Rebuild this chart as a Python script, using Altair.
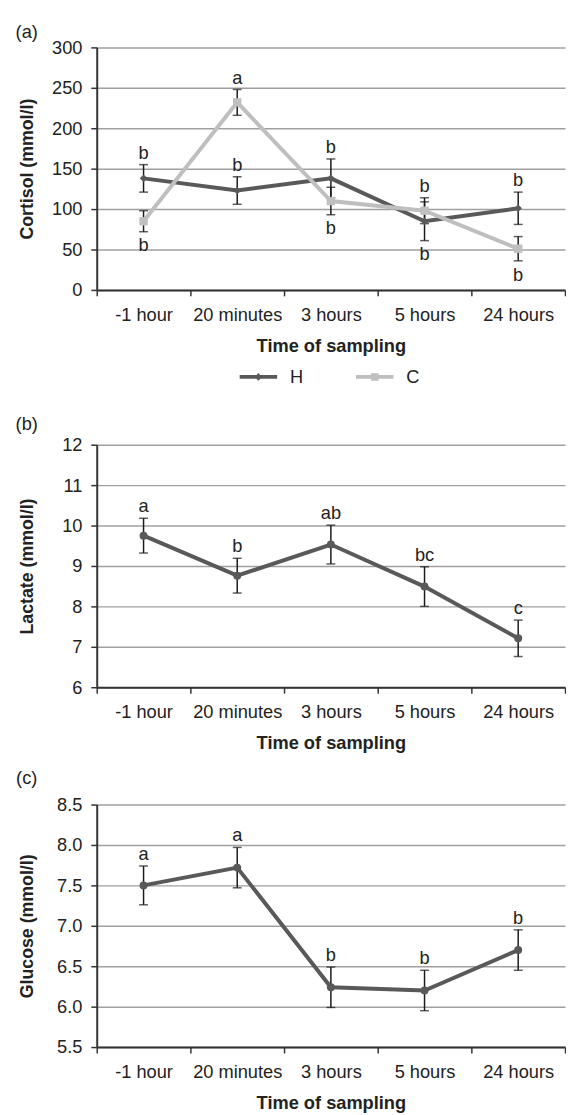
import altair as alt
import pandas as pd

# ---------------- data ----------------
times = ["-1 hour", "20 minutes", "3 hours", "5 hours", "24 hours"]
series = ["H", "C"]

cortisol_H = [138, 123, 138, 85, 101]
cortisol_H_se = [17, 17, 24, 24, 20]
cortisol_H_letters = ["b", "b", "b", "b", "b"]
cortisol_H_side = ["above", "above", "above", "below", "above"]

cortisol_C = [85, 232, 110, 98, 51]
cortisol_C_se = [13, 16, 17, 16, 15]
cortisol_C_letters = ["b", "a", "b", "b", "b"]
cortisol_C_side = ["below", "above", "below", "above", "below"]

lactate = [9.75, 8.76, 9.53, 8.49, 7.21]
lactate_se = [0.43, 0.43, 0.48, 0.49, 0.45]
lactate_letters = ["a", "b", "ab", "bc", "c"]

glucose = [7.50, 7.72, 6.24, 6.20, 6.70]
glucose_se = [0.24, 0.25, 0.25, 0.25, 0.25]
glucose_letters = ["a", "a", "b", "b", "b"]

cortisol_ticks = [0, 50, 100, 150, 200, 250, 300]
lactate_ticks = [6, 7, 8, 9, 10, 11, 12]
glucose_ticks = [5.5, 6.0, 6.5, 7.0, 7.5, 8.0, 8.5]

# ---------------- styles ----------------
FONT = "Liberation Sans"
FS = 18.5
DARK = "#595959"
LIGHT = "#bfbfbf"
INK = "#222222"
AX = "#333333"
BAR = "#1a1a1a"
W, H = 475, 246


def frame(vals, ses, letters, sides, name):
    rows = []
    for t, v, s, l, sd in zip(times, vals, ses, letters, sides):
        rows.append({"time": t, "series": name, "mean": v, "lo": v - s, "hi": v + s,
                     "letter": l, "side": sd, "anchor": v + s if sd == "above" else v - s})
    return pd.DataFrame(rows)


def xenc():
    return alt.X("time:N", sort=times,
                 scale=alt.Scale(type="band", domain=times, paddingInner=0, paddingOuter=0),
                 axis=alt.Axis(title="Time of sampling", tickBand="extent", labelAngle=0,
                               labelOverlap=False, labelFontSize=FS, labelFont=FONT,
                               labelColor=INK, labelPadding=10, tickSize=6, tickColor=AX,
                               tickWidth=1.5, domainColor=AX, domainWidth=2, grid=False,
                               titleFontSize=FS, titleFont=FONT, titleFontWeight="bold",
                               titleColor=INK, titleY=62, titleBaseline="alphabetic"))


def yenc(field, domain, ticks, title, fmt):
    return alt.Y(field, scale=alt.Scale(domain=domain, nice=False, zero=False),
                 axis=alt.Axis(title=title, values=ticks, format=fmt, grid=True,
                               gridColor="#a0a0a0", gridWidth=1.5, labelFontSize=FS,
                               labelFont=FONT, labelColor=INK, labelPadding=9, tickSize=6,
                               tickColor=AX, tickWidth=1.5, domainColor=AX, domainWidth=2,
                               titleFontSize=18, titleFont=FONT, titleFontWeight="bold",
                               titleColor=INK, titleAngle=270, titleX=-65, titleY=H / 2,
                               titleBaseline="alphabetic", titleAlign="center"))


def bars(df, domain, ticks, title, fmt):
    base = alt.Chart(df)
    rule = base.mark_rule(color=BAR, strokeWidth=1.5).encode(
        x=xenc(), y=yenc("lo:Q", domain, ticks, title, fmt), y2="hi:Q")
    cap_lo = base.mark_tick(color=BAR, size=9, thickness=1.5).encode(
        x=xenc(), y=yenc("lo:Q", domain, ticks, title, fmt))
    cap_hi = base.mark_tick(color=BAR, size=9, thickness=1.5).encode(
        x=xenc(), y=yenc("hi:Q", domain, ticks, title, fmt))
    return [rule, cap_lo, cap_hi]


def letters_layers(df, domain, ticks, title, fmt):
    base = alt.Chart(df)
    up = base.transform_filter("datum.side == 'above'").mark_text(
        dy=-12, fontSize=FS, font=FONT, color=INK, baseline="middle").encode(
        x=xenc(), y=yenc("anchor:Q", domain, ticks, title, fmt), text="letter:N")
    down = base.transform_filter("datum.side == 'below'").mark_text(
        dy=14, fontSize=FS, font=FONT, color=INK, baseline="middle").encode(
        x=xenc(), y=yenc("anchor:Q", domain, ticks, title, fmt), text="letter:N")
    return [up, down]


def tag(label, y):
    return alt.Chart(pd.DataFrame({"tag": [label]})).mark_text(
        fontSize=FS, font=FONT, color=INK, align="center", baseline="alphabetic").encode(
        text="tag:N", x=alt.value(-71), y=alt.value(y))


# ---------------- panel (a) ----------------
df_a = pd.concat([
    frame(cortisol_H, cortisol_H_se, cortisol_H_letters, cortisol_H_side, "H"),
    frame(cortisol_C, cortisol_C_se, cortisol_C_letters, cortisol_C_side, "C"),
], ignore_index=True)
args_a = ([0, 300], cortisol_ticks, "Cortisol (mmol/l)", "d")

# legend symbols: a line segment with the series marker on it
PH = "M-1,-0.1L1,-0.1L1,0.1L-1,0.1Z M0,-0.21L0.2,0L0,0.21L-0.2,0Z"
PC = "M-1,-0.1L1,-0.1L1,0.1L-1,0.1Z M-0.2,-0.2L0.2,-0.2L0.2,0.2L-0.2,0.2Z"

legend = alt.Legend(
    title=None, orient="none", legendX=133, legendY=303, direction="horizontal",
    symbolSize=1444, labelFontSize=FS, labelFont=FONT, labelColor=INK,
    labelOffset=13, columnPadding=53, padding=12, symbolStrokeWidth=0, symbolOpacity=1)

legend_layer = alt.Chart(df_a).mark_point(filled=True, opacity=0, size=1).encode(
    x=xenc(), y=yenc("mean:Q", *args_a),
    color=alt.Color("series:N", scale=alt.Scale(domain=series, range=[DARK, LIGHT]),
                    legend=legend),
    shape=alt.Shape("series:N", scale=alt.Scale(domain=series, range=[PH, PC]),
                    legend=legend))

dfH = df_a[df_a.series == "H"]
dfC = df_a[df_a.series == "C"]
line_aH = alt.Chart(dfH).mark_line(strokeWidth=4, color=DARK).encode(
    x=xenc(), y=yenc("mean:Q", *args_a))
line_aC = alt.Chart(dfC).mark_line(strokeWidth=4, color=LIGHT).encode(
    x=xenc(), y=yenc("mean:Q", *args_a))
pts_aH = alt.Chart(dfH).mark_point(filled=True, opacity=1, shape="diamond", size=60,
                                   color=DARK).encode(x=xenc(), y=yenc("mean:Q", *args_a))
pts_aC = alt.Chart(dfC).mark_point(filled=True, opacity=1, shape="square", size=72,
                                   color=LIGHT).encode(x=xenc(), y=yenc("mean:Q", *args_a))

panel_a = alt.layer(*bars(df_a, *args_a), line_aH, line_aC, pts_aH, pts_aC,
                    *letters_layers(df_a, *args_a), legend_layer,
                    tag("(a)", -10)).properties(width=W, height=H)

# ---------------- panel (b) ----------------
df_b = frame(lactate, lactate_se, lactate_letters, ["above"] * 5, "H")
args_b = ([6, 12], lactate_ticks, "Lactate (mmol/l)", "d")
line_b = alt.Chart(df_b).mark_line(strokeWidth=4, color=DARK).encode(
    x=xenc(), y=yenc("mean:Q", *args_b))
pts_b = alt.Chart(df_b).mark_circle(size=65, opacity=1, color=DARK).encode(
    x=xenc(), y=yenc("mean:Q", *args_b))
panel_b = alt.layer(*bars(df_b, *args_b), line_b, pts_b, *letters_layers(df_b, *args_b),
                    tag("(b)", -15)).properties(width=W, height=H)

# ---------------- panel (c) ----------------
df_c = frame(glucose, glucose_se, glucose_letters, ["above"] * 5, "H")
args_c = ([5.5, 8.5], glucose_ticks, "Glucose (mmol/l)", ".1f")
line_c = alt.Chart(df_c).mark_line(strokeWidth=4, color=DARK).encode(
    x=xenc(), y=yenc("mean:Q", *args_c))
pts_c = alt.Chart(df_c).mark_circle(size=65, opacity=1, color=DARK).encode(
    x=xenc(), y=yenc("mean:Q", *args_c))
panel_c = alt.layer(*bars(df_c, *args_c), line_c, pts_c, *letters_layers(df_c, *args_c),
                    tag("(c)", -20.5)).properties(width=W, height=H)

chart = alt.vconcat(panel_a, panel_b, panel_c, spacing=17).resolve_scale(
    color="independent", shape="independent").resolve_legend(
    color="independent", shape="independent").properties(
    padding={"left": 7, "top": 7, "right": 0, "bottom": 0}).configure_view(stroke=None)

chart.save("out.html", embed_options={"renderer": "svg", "actions": False})
